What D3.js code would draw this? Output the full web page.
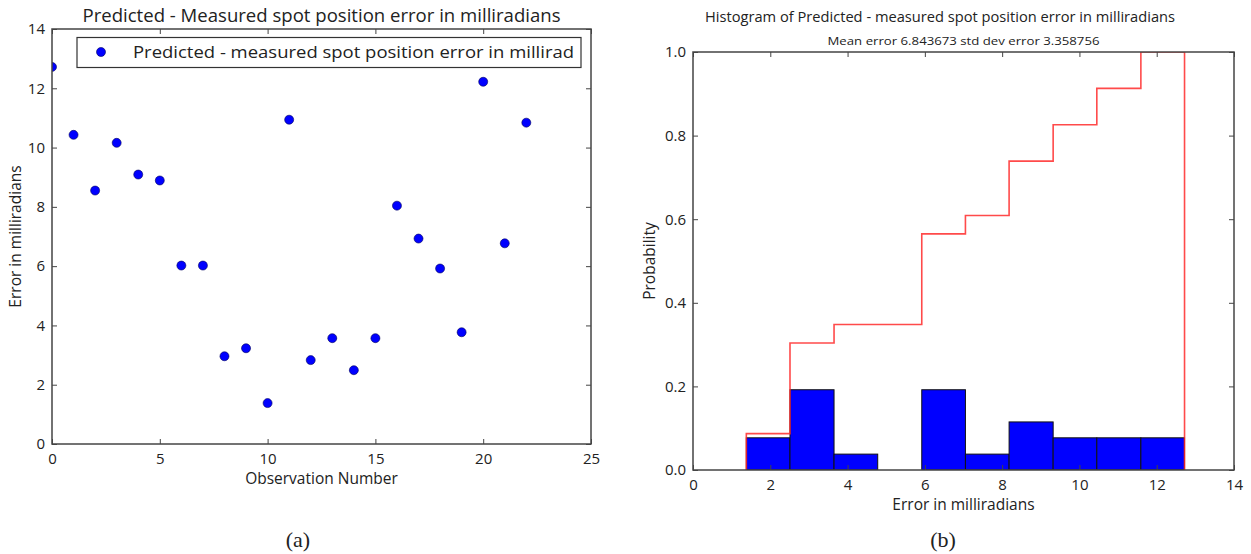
<!DOCTYPE html>
<html>
<head>
<meta charset="utf-8">
<script src="https://cdn.jsdelivr.net/npm/d3@7"></script>
<style>
  body { margin: 0; background: #fff; }
  text { font-family: "Open Sans", sans-serif; fill: #222; }
</style>
</head>
<body>
<div id="chart-area"></div>
<script>
// scatter: error per observation
const obsNumber = [0, 1, 2, 3, 4, 5, 6, 7, 8, 9, 10, 11, 12, 13, 14, 15, 16, 17, 18, 19, 20, 21, 22]
const spotError = [12.72, 10.43, 8.55, 10.16, 9.09, 8.89, 6.02, 6.02, 2.96, 3.23, 1.38, 10.94,
  2.83, 3.57, 2.49, 3.57, 8.04, 6.93, 5.92, 3.77, 12.22, 6.77, 10.84]

// histogram (normed) and its cumulative step line
const binEdges = [1.38, 2.51, 3.65, 4.78, 5.92, 7.05, 8.18, 9.32, 10.45, 11.59, 12.72]
const binDensity = [0.077, 0.192, 0.038, 0, 0.192, 0.038, 0.115, 0.077, 0.077, 0.077]
const binCumulative = [0.087, 0.304, 0.348, 0.348, 0.565, 0.609, 0.739, 0.826, 0.913, 1.0]

const leftXTicks = [0, 5, 10, 15, 20, 25]
const leftYTicks = [0, 2, 4, 6, 8, 10, 12, 14]
const rightXTicks = [0, 2, 4, 6, 8, 10, 12, 14]
const rightYTicks = [0, 0.2, 0.4, 0.6, 0.8, 1.0]

const leftTitle = "Predicted - Measured spot position error in milliradians"
const legendLabel = "Predicted - measured spot position error in millirad"
const rightTitle = "Histogram of Predicted - measured spot position error in milliradians"
const rightSubtitle = "Mean error 6.843673 std dev error 3.358756"

const svg = d3.select("#chart-area")
  .append("svg")
  .attr("width", 1251)
  .attr("height", 554)

svg.append("rect").attr("width", 1251).attr("height", 554).attr("fill", "#fff")

const LEFT = { x0: 52, x1: 591, y0: 29, y1: 444 }
const RIGHT = { x0: 693, x1: 1234, y0: 52, y1: 470 }

// draws inward ticks on all four sides plus the frame
const drawAxes = (g, box, x, y, xTicks, yTicks, xFmt, yFmt) => {
  g.append("g")
    .attr("transform", `translate(0,${box.y1})`)
    .call(d3.axisBottom(x).tickValues(xTicks).tickFormat(xFmt).tickSizeInner(-5).tickSizeOuter(0).tickPadding(9))
    .call(a => a.select(".domain").remove())
    .selectAll("text").attr("font-size", "15px").attr("fill", "#222")
  g.append("g")
    .attr("transform", `translate(0,${box.y0})`)
    .call(d3.axisTop(x).tickValues(xTicks).tickFormat("").tickSizeInner(-5).tickSizeOuter(0))
    .call(a => a.select(".domain").remove())
  g.append("g")
    .attr("transform", `translate(${box.x0},0)`)
    .call(d3.axisLeft(y).tickValues(yTicks).tickFormat(yFmt).tickSizeInner(-5).tickSizeOuter(0).tickPadding(7))
    .call(a => a.select(".domain").remove())
    .selectAll("text").attr("font-size", "15px").attr("fill", "#222")
  g.append("g")
    .attr("transform", `translate(${box.x1},0)`)
    .call(d3.axisRight(y).tickValues(yTicks).tickFormat("").tickSizeInner(-5).tickSizeOuter(0))
    .call(a => a.select(".domain").remove())
  g.selectAll(".tick line").attr("stroke", "#444")
  g.append("rect")
    .attr("x", box.x0).attr("y", box.y0)
    .attr("width", box.x1 - box.x0).attr("height", box.y1 - box.y0)
    .attr("fill", "none").attr("stroke", "#444").attr("stroke-width", 1.5)
}

// ---------- (a) scatter ----------
const gA = svg.append("g")
const xA = d3.scaleLinear().domain([0, 25]).range([LEFT.x0, LEFT.x1])
const yA = d3.scaleLinear().domain([0, 14]).range([LEFT.y1, LEFT.y0])

svg.append("clipPath").attr("id", "clipA")
  .append("rect").attr("x", LEFT.x0).attr("y", LEFT.y0)
  .attr("width", LEFT.x1 - LEFT.x0).attr("height", LEFT.y1 - LEFT.y0)

gA.append("g").attr("clip-path", "url(#clipA)")
  .selectAll("circle")
  .data(obsNumber)
  .enter().append("circle")
  .attr("cx", d => xA(d))
  .attr("cy", (d, i) => yA(spotError[i]))
  .attr("r", 4.5)
  .attr("fill", "#0000ff")
  .attr("stroke", "#00005a")
  .attr("stroke-width", 0.6)

drawAxes(gA, LEFT, xA, yA, leftXTicks, leftYTicks, d3.format("d"), d3.format("d"))

// legend
const legend = gA.append("g")
legend.append("rect")
  .attr("x", 77).attr("y", 37.5).attr("width", 504).attr("height", 30)
  .attr("fill", "#fff").attr("stroke", "#333").attr("stroke-width", 1.2)
legend.append("circle")
  .attr("cx", 101).attr("cy", 52).attr("r", 4.5)
  .attr("fill", "#0000ff").attr("stroke", "#00005a").attr("stroke-width", 0.6)
legend.append("text")
  .attr("x", 133).attr("y", 58)
  .attr("font-size", "17px")
  .attr("textLength", 441).attr("lengthAdjust", "spacingAndGlyphs")
  .text(legendLabel)

gA.append("text")
  .attr("x", (LEFT.x0 + LEFT.x1) / 2).attr("y", 22)
  .attr("text-anchor", "middle").attr("font-size", "17.5px")
  .attr("textLength", 478).attr("lengthAdjust", "spacingAndGlyphs")
  .text(leftTitle)

gA.append("text")
  .attr("x", (LEFT.x0 + LEFT.x1) / 2).attr("y", 484)
  .attr("text-anchor", "middle").attr("font-size", "15.5px")
  .text("Observation Number")

gA.append("text")
  .attr("transform", `translate(21,${(LEFT.y0 + LEFT.y1) / 2}) rotate(-90)`)
  .attr("text-anchor", "middle").attr("font-size", "15.5px")
  .text("Error in milliradians")

// ---------- (b) histogram ----------
const gB = svg.append("g")
const xB = d3.scaleLinear().domain([0, 14]).range([RIGHT.x0, RIGHT.x1])
const yB = d3.scaleLinear().domain([0, 1]).range([RIGHT.y1, RIGHT.y0])

svg.append("clipPath").attr("id", "clipB")
  .append("rect").attr("x", RIGHT.x0).attr("y", RIGHT.y0)
  .attr("width", RIGHT.x1 - RIGHT.x0).attr("height", RIGHT.y1 - RIGHT.y0)

const plotB = gB.append("g").attr("clip-path", "url(#clipB)")

plotB.selectAll("rect.bar")
  .data(binDensity)
  .enter().append("rect")
  .attr("class", "bar")
  .attr("x", (d, i) => xB(binEdges[i]))
  .attr("width", (d, i) => xB(binEdges[i + 1]) - xB(binEdges[i]))
  .attr("y", d => yB(d))
  .attr("height", d => yB(0) - yB(d))
  .attr("fill", "#0000ff")
  .attr("stroke", d => d > 0 ? "#111" : "none")
  .attr("stroke-width", 1)

// cumulative step outline
const stepPts = [[binEdges[0], 0]]
binCumulative.forEach((c, i) => {
  stepPts.push([binEdges[i], c])
  stepPts.push([binEdges[i + 1], c])
})
stepPts.push([binEdges[binEdges.length - 1], 0])

plotB.append("path")
  .datum(stepPts)
  .attr("d", d3.line().x(d => xB(d[0])).y(d => yB(d[1])))
  .attr("fill", "none")
  .attr("stroke", "#ff2a2a")
  .attr("stroke-opacity", 0.85)
  .attr("stroke-width", 1.6)

drawAxes(gB, RIGHT, xB, yB, rightXTicks, rightYTicks, d3.format("d"), d3.format(".1f"))

gB.append("text")
  .attr("x", 940).attr("y", 22)
  .attr("text-anchor", "middle").attr("font-size", "15px")
  .attr("textLength", 470).attr("lengthAdjust", "spacingAndGlyphs")
  .text(rightTitle)

gB.append("text")
  .attr("x", (RIGHT.x0 + RIGHT.x1) / 2).attr("y", 45)
  .attr("text-anchor", "middle").attr("font-size", "11.5px")
  .attr("textLength", 272).attr("lengthAdjust", "spacingAndGlyphs")
  .text(rightSubtitle)

gB.append("text")
  .attr("x", (RIGHT.x0 + RIGHT.x1) / 2).attr("y", 510)
  .attr("text-anchor", "middle").attr("font-size", "15.5px")
  .text("Error in milliradians")

gB.append("text")
  .attr("transform", `translate(655,${(RIGHT.y0 + RIGHT.y1) / 2}) rotate(-90)`)
  .attr("text-anchor", "middle").attr("font-size", "15.5px")
  .text("Probability")

// captions
svg.append("text")
  .attr("x", 298).attr("y", 547)
  .attr("text-anchor", "middle")
  .style("font-family", "'Liberation Serif', serif")
  .attr("font-size", "22px").attr("fill", "#000")
  .text("(a)")

svg.append("text")
  .attr("x", 943).attr("y", 547)
  .attr("text-anchor", "middle")
  .style("font-family", "'Liberation Serif', serif")
  .attr("font-size", "22px").attr("fill", "#000")
  .text("(b)")
</script>
</body>
</html>
